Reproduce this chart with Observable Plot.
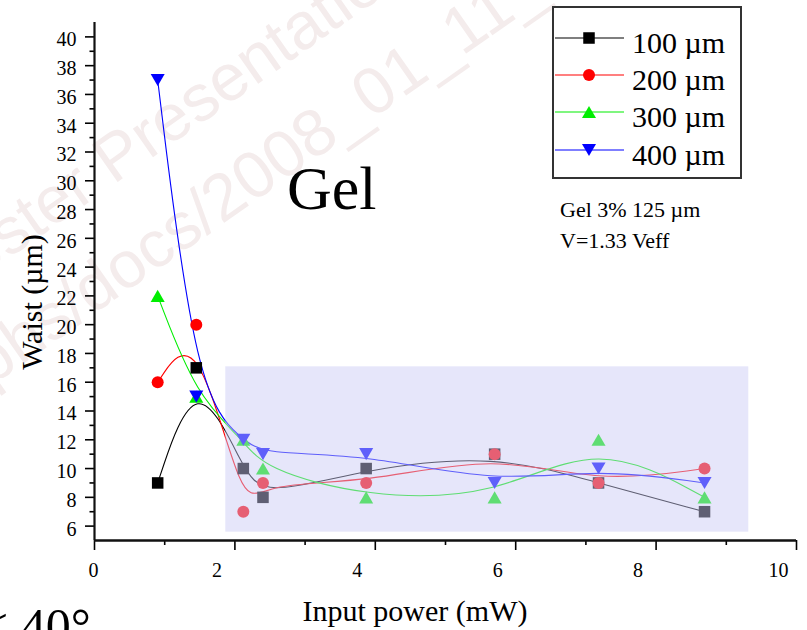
<!DOCTYPE html>
<html><head><meta charset="utf-8">
<script src="https://cdn.jsdelivr.net/npm/d3@7"></script>
<script src="https://cdn.jsdelivr.net/npm/@observablehq/plot@0.6"></script>
<style>
body{margin:0;background:#fff}
#wrap{position:relative;width:807px;height:630px;overflow:hidden}
#wrap svg{position:absolute;left:0;top:0}
</style>
</head><body><div id="wrap"></div>
<script>
// ---- data ----
const inputPower = [0.90, 1.45, 2.12, 2.40, 3.87, 5.70, 7.18, 8.69];
const seriesNames = ["100 µm", "200 µm", "300 µm", "400 µm"];
const waist100 = [9, 17, 10, 8, 10, 11, 9, 7];
const waist200 = [16, 20, 7, 9, 9, 11, 9, 10];
const waist300 = [22, 15, 12, 10, 8, 8, 12, 8];
const waist400 = [37, 15, 12, 11, 11, 9, 10, 9];
const seriesColors = ["#000000", "#ff0000", "#00ee00", "#0000ff"];
const yMajorTicks = d3.range(6, 41, 2);
const yMinorTicks = d3.range(7, 40, 2);
const xMajorTicks = [0, 2, 4, 6, 8, 10];
const xMinorTicks = [1, 3, 5, 7, 9];
const shadeX = [1.87, 9.32];
const shadeY = [5.58, 17.07];

const serif = "Liberation Serif, Times New Roman, serif";

// custom triangles
const triUp = {draw(ctx, size){const s=Math.sqrt(size);const w=s*0.66,h=s*0.57;ctx.moveTo(0,-h);ctx.lineTo(w,h);ctx.lineTo(-w,h);ctx.closePath();}};
const triDown = {draw(ctx, size){const s=Math.sqrt(size);const w=s*0.66,h=s*0.57;ctx.moveTo(0,h);ctx.lineTo(w,-h);ctx.lineTo(-w,-h);ctx.closePath();}};
const symbols = ["square", "circle", triUp, triDown];
const radii = [6.5, 6, 6, 6];

const allWaist = [waist100, waist200, waist300, waist400];
const tables = allWaist.map((w, i) => inputPower.map((x, j) => ({x, y: w[j], s: seriesNames[i]})));

const wrap = document.getElementById("wrap");

// watermark (behind)
const wm = d3.create("svg").attr("width", 807).attr("height", 630);
wm.append("text").attr("transform", "translate(-58,305) rotate(-35)")
  .attr("font-family", "Liberation Sans, Arial, sans-serif").attr("font-size", 66)
  .attr("fill", "#f4ecec")
  .text("Poster Presentations");
wm.append("text").attr("transform", "translate(-100,450) rotate(-35)")
  .attr("font-family", "Liberation Sans, Arial, sans-serif").attr("font-size", 66)
  .attr("fill", "#f4ecec")
  .text("Graphs/docs/2008_01_11_");
wrap.appendChild(wm.node());

const marks = [];
tables.forEach((t, i) => {
  marks.push(Plot.line(t, {x: "x", y: "y", curve: "basis", stroke: seriesColors[i], strokeWidth: 1.1}));
});
tables.forEach((t, i) => {
  marks.push(Plot.dot(t, {x: "x", y: "y", symbol: symbols[i], r: radii[i], fill: seriesColors[i], stroke: "none"}));
});
marks.push(Plot.rect([{x1: shadeX[0], x2: shadeX[1], y1: shadeY[0], y2: shadeY[1]}],
  {x1: "x1", x2: "x2", y1: "y1", y2: "y2", fill: "rgb(202,202,245)", fillOpacity: 0.47}));
// axes
marks.push(Plot.axisY({ticks: yMajorTicks, tickSize: 9, strokeWidth: 1.6, tickFormat: () => "", label: null}));
marks.push(Plot.axisY({ticks: yMinorTicks, tickSize: 4.5, strokeWidth: 1.6, tickFormat: () => "", label: null}));
marks.push(Plot.axisY({ticks: yMajorTicks, tickSize: 0, tickPadding: 18, dy: 3, fontSize: 20, fill: "#000", label: null}));
marks.push(Plot.axisX({ticks: xMajorTicks, tickSize: 10, strokeWidth: 1.6, tickFormat: () => "", label: null}));
marks.push(Plot.axisX({ticks: xMinorTicks, tickSize: 5, strokeWidth: 1.6, tickFormat: () => "", label: null}));
marks.push(Plot.axisX({ticks: xMajorTicks.slice(1), tickSize: 0, tickPadding: 22, dx: -18, fontSize: 20, fill: "#000", label: null}));
marks.push(Plot.axisX({ticks: xMajorTicks.slice(0, 1), tickSize: 0, tickPadding: 22, dx: -1, fontSize: 20, fill: "#000", label: null}));
marks.push(Plot.ruleX([0], {strokeWidth: 2.2, stroke: "#111"}));
marks.push(Plot.ruleY([5], {strokeWidth: 2.6, stroke: "#111"}));

const chart = Plot.plot({
  width: 807, height: 630,
  marginLeft: 94, marginRight: 11, marginTop: 22, marginBottom: 90,
  x: {domain: [0, 10]},
  y: {domain: [5, 41]},
  style: {background: "transparent", fontFamily: serif, fontSize: "20px", overflow: "visible", color: "#000"},
  marks
});
wrap.appendChild(chart);

// annotations & legend overlay
const ov = d3.create("svg").attr("width", 807).attr("height", 630).style("pointer-events", "none");
const T = (x, y, size, txt, extra) => {
  const t = ov.append("text").attr("x", x).attr("y", y).attr("font-family", serif).attr("font-size", size).attr("fill", "#000").text(txt);
  if (extra) extra(t);
  return t;
};
T(287, 209, 62, "Gel");
T(560, 217, 22, "Gel 3% 125 µm");
T(560, 248, 22, "V=1.33 Veff");
T(415, 621, 30, "Input power (mW)", t => t.attr("text-anchor", "middle"));
T(0, 0, 30, "Waist (µm)", t => t.attr("text-anchor", "middle").attr("transform", "translate(42,302) rotate(-90)"));
T(-20, 643, 50, "< 40°");

// legend
ov.append("rect").attr("x", 553).attr("y", 7).attr("width", 188).attr("height", 171)
  .attr("fill", "white").attr("stroke", "#333").attr("stroke-width", 2);
const rowY = [38, 75, 112, 150];
seriesNames.forEach((name, i) => {
  const cy = rowY[i];
  ov.append("line").attr("x1", 555).attr("x2", 624).attr("y1", cy).attr("y2", cy)
    .attr("stroke", seriesColors[i]).attr("stroke-width", 1.1);
  const sym = typeof symbols[i] === "string" ? (symbols[i] === "square" ? d3.symbolSquare : d3.symbolCircle) : symbols[i];
  ov.append("path").attr("transform", `translate(589,${cy})`)
    .attr("d", d3.symbol(sym, Math.PI * radii[i] * radii[i])()).attr("fill", seriesColors[i]);
  T(632, cy + 15, 30, name);
});
wrap.appendChild(ov.node());
</script>
</body></html>
